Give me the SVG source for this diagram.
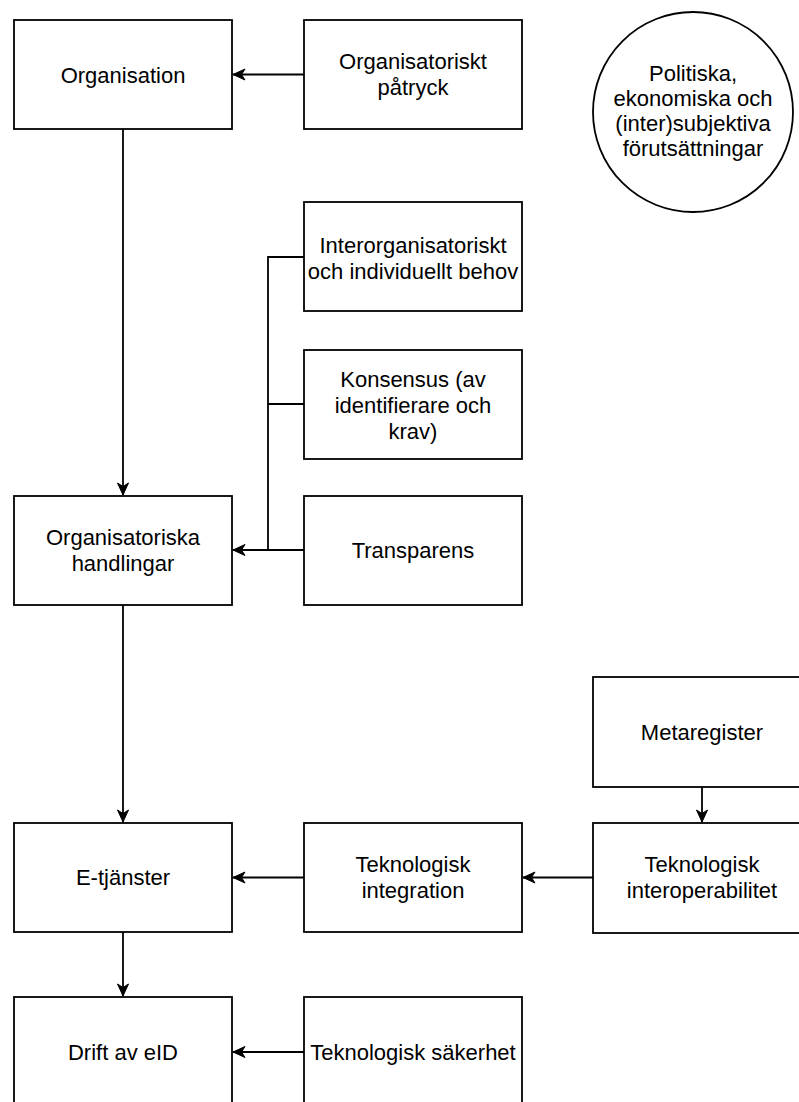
<svg xmlns="http://www.w3.org/2000/svg" width="799" height="1102" viewBox="0 0 799 1102">
<style>
.box{fill:#fff;stroke:#000;stroke-width:1.8}
.t{font-family:"Liberation Sans",Arial,sans-serif;font-size:22px;fill:#000;text-anchor:middle}
.c{fill:none;stroke:#000;stroke-width:1.8}
</style>
<defs>
<marker id="arr" markerUnits="userSpaceOnUse" markerWidth="16" markerHeight="14" refX="13" refY="6" orient="auto" viewBox="0 0 16 14">
<path d="M1,0.5 L13,6 L1,11.5 L4.5,6 Z" fill="#000" stroke="#000" stroke-width="1"/>
</marker>
</defs>
<rect width="799" height="1102" fill="#fff"/>
<g id="connectors">
<path class="c" d="M304,74.5 H233" marker-end="url(#arr)"/>
<path class="c" d="M123,129 V495" marker-end="url(#arr)"/>
<path class="c" d="M304,257 H268 V550"/>
<path class="c" d="M304,404 H268"/>
<path class="c" d="M304,550 H233" marker-end="url(#arr)"/>
<path class="c" d="M123,605 V822" marker-end="url(#arr)"/>
<path class="c" d="M702,787 V822" marker-end="url(#arr)"/>
<path class="c" d="M593,877.5 H523" marker-end="url(#arr)"/>
<path class="c" d="M304,877.5 H233" marker-end="url(#arr)"/>
<path class="c" d="M123,932 V996" marker-end="url(#arr)"/>
<path class="c" d="M304,1052 H233" marker-end="url(#arr)"/>
</g>
<g id="organisation">
<rect class="box" x="14" y="20" width="218" height="109"/>
<text class="t" x="123" y="82.5">Organisation</text>
</g>
<g id="organisatoriskt-patryck">
<rect class="box" x="304" y="20" width="218" height="109"/>
<text class="t" x="413" y="69">Organisatoriskt</text>
<text class="t" x="413" y="95">påtryck</text>
</g>
<g id="forutsattningar">
<circle class="box" cx="693" cy="112" r="100"/>
<text class="t" x="693" y="81">Politiska,</text>
<text class="t" x="693" y="106">ekonomiska och</text>
<text class="t" x="693" y="131">(inter)subjektiva</text>
<text class="t" x="693" y="156">förutsättningar</text>
</g>
<g id="interorganisatoriskt">
<rect class="box" x="304" y="202" width="218" height="109"/>
<text class="t" x="413" y="252.5">Interorganisatoriskt</text>
<text class="t" x="413" y="278.5">och individuellt behov</text>
</g>
<g id="konsensus">
<rect class="box" x="304" y="350" width="218" height="109"/>
<text class="t" x="413" y="386.5">Konsensus (av</text>
<text class="t" x="413" y="412.5">identifierare och</text>
<text class="t" x="413" y="439">krav)</text>
</g>
<g id="transparens">
<rect class="box" x="304" y="496" width="218" height="109"/>
<text class="t" x="413" y="558">Transparens</text>
</g>
<g id="organisatoriska-handlingar">
<rect class="box" x="14" y="496" width="218" height="109"/>
<text class="t" x="123" y="545">Organisatoriska</text>
<text class="t" x="123" y="571">handlingar</text>
</g>
<g id="metaregister">
<rect class="box" x="593" y="677" width="218" height="110"/>
<text class="t" x="702" y="740">Metaregister</text>
</g>
<g id="e-tjanster">
<rect class="box" x="14" y="823" width="218" height="109"/>
<text class="t" x="123" y="885">E-tjänster</text>
</g>
<g id="teknologisk-integration">
<rect class="box" x="304" y="823" width="218" height="109"/>
<text class="t" x="413" y="871.5">Teknologisk</text>
<text class="t" x="413" y="897.5">integration</text>
</g>
<g id="teknologisk-interoperabilitet">
<rect class="box" x="593" y="823" width="218" height="110"/>
<text class="t" x="702" y="871.5">Teknologisk</text>
<text class="t" x="702" y="897.5">interoperabilitet</text>
</g>
<g id="drift-av-eid">
<rect class="box" x="14" y="997" width="218" height="109"/>
<text class="t" x="123" y="1060">Drift av eID</text>
</g>
<g id="teknologisk-sakerhet">
<rect class="box" x="304" y="997" width="218" height="109"/>
<text class="t" x="413" y="1060">Teknologisk säkerhet</text>
</g>
</svg>
